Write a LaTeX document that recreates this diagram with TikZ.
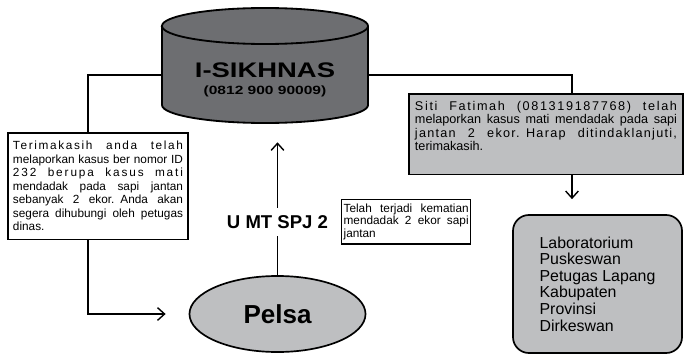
\documentclass[tikz,border=0pt]{standalone}
\usepackage{fontspec}
\setmainfont{Liberation Sans}
\usepackage{xcolor}
\usepackage{tikz}
\usetikzlibrary{arrows.meta, positioning, shapes.geometric, calc}

\definecolor{dbgrey}{HTML}{6D6E71}
\definecolor{boxgrey}{HTML}{BEBFC1}
% one line stretched to the given width (optional letter spacing)
\newcommand{\spreadline}[3][0]{\noindent\makebox[#2][s]{\addfontfeature{LetterSpace=#1}\spaceskip=0.28em plus 1fil\relax #3}\\}

\begin{document}
\begin{tikzpicture}[x=0.025cm, y=-0.025cm,
    conn/.style={line width=1pt},
    arr/.style={line width=1pt, -{Straight Barb[length=5pt, width=9pt, line width=1pt]}},
    msgbox/.style={draw, line width=1.2pt, fill=white, align=left, inner xsep=0.125cm, inner ysep=6pt, font=\fontsize{8.4}{9.6}\selectfont},
    notebox/.style={draw, line width=0.9pt, fill=white, align=left, inner xsep=0.05cm, inner ysep=3pt, font=\fontsize{8.4}{8.9}\selectfont},
    destbox/.style={draw, line width=1.2pt, fill=boxgrey, rounded corners=0.4cm, align=left, minimum width=4.225cm, minimum height=3.45cm, font=\fontsize{11.3}{11.8}\selectfont}]
    \useasboundingbox (0,0) rectangle (685,355);

    % Database
    \node[minimum width=5.15cm, minimum height=2.875cm, inner sep=0pt] (sik) at (265,65.5) {};
    \filldraw[fill=dbgrey, line width=1.3pt] (162,26) -- (162,105)
        arc[start angle=180, end angle=360, x radius=2.575cm, y radius=0.45cm] -- (368,26)
        arc[start angle=0, end angle=180, x radius=2.575cm, y radius=0.45cm] -- cycle;
    \draw[line width=1.3pt] (162,26) arc[start angle=180, end angle=360, x radius=2.575cm, y radius=0.45cm];
    \node[font=\fontsize{15}{15}\selectfont\bfseries] (sikname) at (265,70.5) {\scalebox{1.3}[1]{I-SIKHNAS}};
    \node[font=\fontsize{8.5}{8.5}\selectfont\bfseries] (siknum) at (265,91) {\scalebox{1.3}[1]{(0812 900 90009)}};

    % Reporter
    \node[ellipse, draw, line width=1.2pt, fill=boxgrey, minimum width=4.4cm, minimum height=1.9cm, inner sep=0pt, font=\fontsize{18.5}{18.5}\selectfont\bfseries] (pelsa) at (277.5,314) {Pelsa};

    % Reply to reporter
    \node[msgbox, text width=4.25cm, anchor=north] (msgA) at (98,132) {%
        \spreadline[14]{4.25cm}{Terimakasih anda telah}
        \spreadline{4.25cm}{melaporkan kasus ber nomor ID}
        \spreadline[16]{4.25cm}{232 berupa kasus mati}
        \spreadline{4.25cm}{mendadak pada sapi jantan}
        \spreadline{4.25cm}{sebanyak 2 ekor. Anda akan}
        \spreadline{4.25cm}{segera dihubungi oleh petugas}
        dinas.};

    % Report sent by sms
    \node[notebox, text width=3.125cm, anchor=north west] (msgB) at (341,199) {%
        \spreadline{3.125cm}{Telah terjadi kematian}
        \spreadline{3.125cm}{mendadak 2 ekor sapi}
        jantan};

    % Notice to officers
    \node[msgbox, fill=boxgrey, text width=6.55cm, inner xsep=0.15cm, inner ysep=5pt, anchor=north, font=\fontsize{9}{9.6}\selectfont] (msgC) at (546,93) {%
        \spreadline[13]{6.55cm}{Siti Fatimah (081319187768) telah}
        \spreadline{6.55cm}{melaporkan kasus mati mendadak pada sapi}
        \spreadline[10]{6.55cm}{jantan 2 ekor. Harap ditindaklanjuti,}
        terimakasih.\\[2.4pt]\mbox{}};

    % Officers
    \node[destbox] (dest) at (597.5,284) {Laboratorium\\Puskeswan\\Petugas Lapang\\Kabupaten\\Provinsi\\Dirkeswan};

    % Connectors
    \draw[conn] ($(sik.west)+(0,9.5)$) -| ($(msgA.north)+(-10,0)$);
    \draw[arr, shorten >=0.575cm] ($(msgA.south)+(-10,0)$) |- (pelsa.west);
    \draw[arr, shorten >=0.475cm] (pelsa.north) -- (pelsa.north |- sik.south)
        node[pos=0.35, fill=white, inner ysep=5.5pt, font=\fontsize{13.2}{13.2}\selectfont\bfseries] (code) {U MT SPJ 2};
    \draw[conn] ($(sik.east)+(0,9.5)$) -| ($(msgC.north)+(26,0)$);
    \coordinate (down) at ($(msgC.south)+(26,0)$);
    \draw[arr, shorten >=0.375cm] (down) -- (down |- dest.north);
\end{tikzpicture}
\end{document}
